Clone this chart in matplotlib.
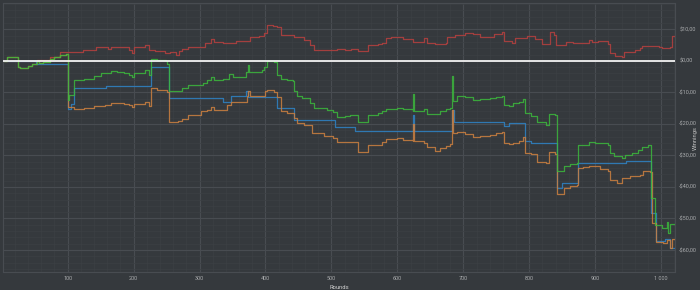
import matplotlib
matplotlib.use('Agg')
import matplotlib.pyplot as plt
from matplotlib.ticker import MultipleLocator, FuncFormatter

#### DATA (round, winnings), drawn as steps
red_rounds = [0, 53, 74, 89, 123, 143, 161, 166, 180, 193, 198, 200, 218, 223, 233, 248, 255, 264,
              269, 274, 282, 305, 309, 317, 322, 336, 344, 355, 367, 377, 390, 397, 402, 412, 418,
              423, 443, 458, 468, 473, 487, 499, 509, 520, 529, 541, 556, 570, 577, 582, 590, 600,
              608, 623, 640, 645, 657, 673, 676, 688, 703, 715, 726, 746, 759, 761, 774, 779, 797,
              809, 819, 832, 837, 841, 856, 867, 877, 890, 895, 904, 920, 923, 930, 940, 943, 961,
              968, 971, 996, 1001, 1014, 1017, 1021]
red_values = [0.0, 0.4, 1.3, 2.8, 3.3, 4.3, 3.7, 4.5, 4.3, 3.5, 2.6, 4.3, 5.1, 3.3, 3.0, 2.4, 2.7, 1.9,
              3.0, 3.7, 4.5, 4.5, 5.7, 6.9, 5.9, 5.6, 5.7, 6.3, 6.3, 7.5, 8.0, 8.8, 11.4, 11.2, 10.9,
              8.3, 7.7, 6.7, 5.1, 3.5, 3.4, 3.3, 3.7, 3.5, 3.7, 3.0, 5.1, 5.4, 5.7, 7.2, 7.5, 7.7,
              6.9, 6.1, 7.2, 5.7, 5.5, 5.7, 7.7, 8.3, 8.8, 8.6, 7.7, 8.6, 9.3, 6.4, 5.7, 7.4, 7.9,
              6.9, 5.5, 9.3, 8.3, 4.9, 6.1, 5.7, 5.6, 6.7, 6.0, 6.3, 5.5, 2.4, 1.4, 1.2, 2.8, 3.3,
              4.0, 4.8, 4.5, 4.0, 4.5, 7.9, 7.6]

green_rounds = [0, 8, 24, 28, 40, 46, 54, 56, 63, 73, 79, 89, 97, 100, 102, 109, 125, 140, 150, 165,
                175, 186, 193, 198, 200, 218, 223, 226, 236, 249, 251, 253, 267, 274, 283, 305, 312,
                317, 322, 336, 344, 350, 362, 370, 373, 375, 395, 397, 402, 413, 418, 423, 433, 441,
                443, 448, 456, 468, 473, 494, 503, 509, 521, 528, 541, 554, 556, 570, 577, 582, 600,
                608, 623, 624, 625, 640, 645, 657, 665, 673, 680, 683, 685, 691, 703, 715, 726, 741,
                750, 759, 761, 770, 776, 785, 791, 794, 802, 812, 826, 830, 839, 842, 852, 862, 872,
                874, 890, 900, 920, 923, 928, 940, 945, 956, 965, 971, 980, 985, 991, 1002, 1009,
                1011, 1014, 1021]
green_values = [0.0, 1.3, -2.0, -2.2, -1.7, -1.0, 0.0, -0.8, -0.3, 0.5, 1.2, 1.9, 2.1, -12.4, -10.8,
                -6.0, -5.6, -4.8, -4.0, -3.2, -3.4, -4.0, -4.4, -5.1, -4.0, -2.9, -4.6, 0.6, 0.3,
                0.0, -0.9, -9.5, -9.7, -8.7, -7.6, -7.1, -6.0, -5.2, -6.2, -5.6, -4.2, -5.0, -5.1,
                -3.5, -1.3, -3.5, -3.0, -2.0, 0.0, -0.5, -4.5, -5.8, -6.2, -6.5, -9.5, -11.2, -11.9,
                -13.4, -15.1, -15.6, -16.1, -17.9, -17.4, -17.1, -19.3, -19.5, -17.1, -16.6, -16.0,
                -15.4, -15.0, -15.4, -15.8, -10.6, -15.8, -15.4, -16.8, -17.0, -16.0, -15.4, -14.8,
                -4.8, -12.8, -11.2, -11.6, -12.3, -12.0, -11.7, -11.5, -11.0, -14.0, -14.4, -13.4,
                -12.9, -12.2, -16.6, -17.5, -19.5, -20.3, -16.8, -17.1, -35.1, -33.2, -32.8, -32.5,
                -26.7, -25.6, -26.2, -26.7, -29.3, -30.3, -30.9, -29.8, -29.3, -28.3, -27.3, -26.7,
                -43.6, -52.1, -53.1, -51.2, -54.6, -51.8, -52.0]

blue_rounds = [0, 52, 101, 105, 110, 158, 227, 254, 335, 347, 371, 374, 412, 418, 443, 505, 535, 623,
               624, 625, 683, 686, 761, 770, 794, 802, 842, 850, 874, 947, 985, 992, 1006, 1014, 1021]
blue_values = [0.0, -1.0, -15.3, -13.7, -8.7, -7.9, -1.8, -11.8, -12.9, -11.2, -9.7, -11.6, -11.6,
               -15.0, -18.8, -21.0, -22.4, -22.4, -17.1, -22.4, -15.6, -19.3, -20.6, -19.8, -25.3,
               -25.9, -40.2, -38.6, -32.3, -31.7, -48.4, -57.0, -56.6, -59.5, -59.5]

orange_rounds = [0, 8, 24, 28, 40, 46, 54, 56, 63, 73, 79, 89, 97, 100, 110, 125, 140, 156, 165, 186,
                 193, 198, 200, 218, 223, 226, 236, 251, 253, 267, 274, 283, 302, 312, 317, 322, 342,
                 347, 362, 372, 374, 377, 397, 400, 402, 413, 418, 423, 433, 443, 448, 458, 471, 488,
                 503, 509, 528, 541, 554, 556, 577, 582, 600, 608, 623, 624, 625, 640, 645, 657, 665,
                 673, 680, 683, 685, 691, 703, 715, 726, 741, 750, 759, 761, 770, 776, 785, 791, 794,
                 802, 812, 826, 830, 839, 842, 852, 862, 872, 874, 882, 890, 908, 920, 923, 933, 940,
                 953, 968, 973, 983, 986, 992, 1003, 1009, 1011, 1014, 1017, 1021]
orange_values = [0.0, 1.3, -2.0, -2.2, -1.7, -1.0, 0.0, -0.8, -0.3, 0.5, 1.2, 1.9, 2.1, -14.5, -15.3,
                 -15.0, -14.3, -14.0, -13.4, -13.6, -14.0, -14.5, -13.6, -13.2, -14.3, -8.7, -9.2,
                 -10.0, -19.3, -19.2, -18.4, -17.1, -16.0, -15.5, -14.5, -15.6, -13.9, -12.9, -13.2,
                 -11.3, -9.4, -11.3, -11.0, -9.7, -9.2, -9.8, -11.5, -15.8, -16.4, -18.0, -19.6,
                 -20.2, -22.9, -23.8, -24.5, -25.8, -25.6, -28.8, -29.0, -26.8, -25.6, -24.8, -24.5,
                 -25.0, -25.5, -20.0, -25.5, -26.0, -27.4, -28.5, -27.5, -27.0, -26.5, -15.6, -22.9,
                 -22.6, -23.2, -24.1, -23.8, -23.4, -23.0, -22.7, -25.9, -26.4, -25.9, -25.4, -24.1,
                 -29.1, -29.6, -32.0, -32.3, -28.8, -29.4, -42.3, -40.4, -39.8, -39.3, -34.1, -33.6,
                 -33.3, -34.4, -35.1, -37.8, -38.8, -37.2, -36.6, -36.2, -35.1, -35.2, -51.5, -57.4,
                 -57.9, -56.8, -56.9, -59.5, -56.5, -56.8]

BG = '#35393d'
GRID_MAJOR = '#484c51'
GRID_MINOR = '#3c4044'
TXT = '#a9abad'
plt.rcParams['font.family'] = ['Roboto', 'DejaVu Sans']

fig = plt.figure(figsize=(7, 2.9), dpi=100, facecolor=BG)
ax = fig.add_axes([0.0043, 0.062, 0.9600, 0.928], facecolor=BG)

ax.plot(red_rounds, red_values, drawstyle='steps-post', color='#b0403f', lw=0.9, alpha=0.9)
ax.plot(blue_rounds, blue_values, drawstyle='steps-post', color='#2f80c0', lw=0.9, alpha=0.9)
ax.plot(orange_rounds, orange_values, drawstyle='steps-post', color='#cc8040', lw=0.9, alpha=0.85)
ax.plot(green_rounds, green_values, drawstyle='steps-post', color='#3cb83c', lw=0.9, alpha=0.85)
ax.axhline(0, color='#f2f2f2', lw=1.3, zorder=5)

ax.set_xlim(2, 1021)
ax.set_ylim(-67, 18.4)

ax.xaxis.set_major_locator(MultipleLocator(100))
ax.xaxis.set_minor_locator(MultipleLocator(20))
ax.yaxis.set_major_locator(MultipleLocator(10))
ax.yaxis.set_minor_locator(MultipleLocator(2))
ax.xaxis.set_major_formatter(FuncFormatter(lambda v, p: '{:,.0f}'.format(v).replace(',', ' ')))
ax.yaxis.set_major_formatter(FuncFormatter(
    lambda v, p: ('-$' if v < 0 else '$') + '{:.2f}'.format(abs(v)).replace('.', ',')))

ax.grid(True, which='major', color=GRID_MAJOR, lw=0.8)
ax.grid(True, which='minor', color=GRID_MINOR, lw=0.5)
ax.set_axisbelow(True)

ax.yaxis.tick_right()
ax.tick_params(which='both', length=0, colors=TXT, labelsize=4)
ax.tick_params(axis='y', pad=3)
ax.tick_params(axis='x', pad=3)
for s in ax.spines.values():
    s.set_color(GRID_MAJOR)
    s.set_linewidth(0.8)

ax.set_xlabel('Rounds', color='#d0d0d0', fontsize=4.2, labelpad=3)
fig.text(0.994, 0.524, 'Winnings', color='#c0c0c0', fontsize=4.2, rotation=90,
         ha='center', va='center')

fig.savefig('out.png', dpi=100, facecolor=BG)
